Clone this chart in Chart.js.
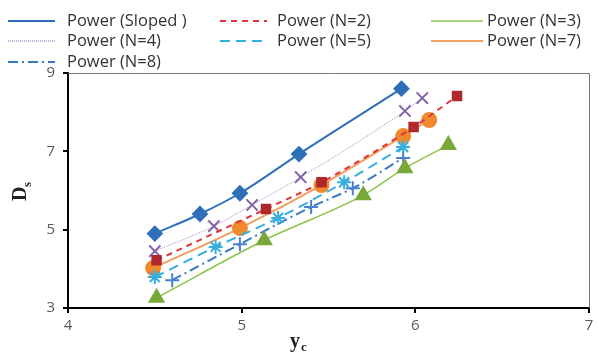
<!DOCTYPE html>
<html>
<head>
<meta charset="utf-8">
<script src="https://cdn.jsdelivr.net/npm/chart.js@4.4.0/dist/chart.umd.min.js"></script>
<style>
  body { margin:0; background:#fff; }
  #wrap { width:599px; height:354px; position:relative; }
</style>
</head>
<body>
<div id="wrap"><canvas id="grafico" width="599" height="354"></canvas></div>
<script>
// series (x = yc, y = Ds)
const xSloped = [4.50, 4.76, 4.99, 5.33, 5.92];
const ySloped = [4.90, 5.40, 5.93, 6.93, 8.60];
const xN2 = [4.51, 5.14, 5.46, 5.99, 6.24];
const yN2 = [4.22, 5.53, 6.21, 7.62, 8.41];
const xN3 = [4.51, 5.13, 5.70, 5.94, 6.19];
const yN3 = [3.26, 4.73, 5.88, 6.57, 7.16];
const xN4 = [4.50, 4.84, 5.06, 5.34, 5.94, 6.04];
const yN4 = [4.45, 5.09, 5.63, 6.34, 8.03, 8.36];
const xN5 = [4.50, 4.85, 5.21, 5.59, 5.93];
const yN5 = [3.79, 4.56, 5.30, 6.21, 7.11];
const xN7 = [4.49, 4.99, 5.46, 5.93, 6.08];
const yN7 = [4.02, 5.04, 6.14, 7.39, 7.80];
const xN8 = [4.60, 4.99, 5.40, 5.64, 5.93];
const yN8 = [3.71, 4.63, 5.58, 6.06, 6.83];
const xTicks = [4, 5, 6, 7];
const yTicks = [3, 5, 7, 9];

const pts = (xs, ys) => xs.map((x,i)=>({x:x, y:ys[i]}));

function serie(label, xs, ys, cor, corMarca, estilo, raio, dash, larg) {
    return { label, data:pts(xs,ys), borderColor:cor, backgroundColor:corMarca, pointBorderColor:corMarca,
        pointBackgroundColor:corMarca, pointStyle:estilo, pointRadius:raio, pointBorderWidth:2,
        borderDash:dash, borderWidth:larg, cubicInterpolationMode:'monotone', fill:false };
}

const datasets = [
    serie('Power (Sloped )', xSloped, ySloped, '#2f6fba', '#2f6fba', 'rectRot', 7, [], 2),
    serie('Power (N=2)', xN2, yN2, '#e0343a', '#b0282c', 'rect', 6, [6,5], 2),
    serie('Power (N=3)', xN3, yN3, '#8cc44a', '#78a83a', 'triangle', 8, [], 1.5),
    serie('Power (N=4)', xN4, yN4, '#a68fc8', '#8263a8', 'crossRot', 8, [1,1], 1),
    serie('Power (N=5)', xN5, yN5, '#35aede', '#35aede', 'star', 7, [10,6], 2),
    serie('Power (N=7)', xN7, yN7, '#f0a060', '#f08a2e', 'circle', 7, [], 2),
    serie('Power (N=8)', xN8, yN8, '#3a78c0', '#4a7fd0', 'cross', 7, [10,4,2,4], 2)
];

// legend in 3 columns + frame + axis titles with subscripts
const extras = {
    id:'extras',
    beforeDatasetsDraw(chart) {
        const {ctx, chartArea:a} = chart;
        ctx.save();
        ctx.strokeStyle = '#777'; ctx.lineWidth = 1;
        ctx.beginPath(); ctx.moveTo(a.left, a.top+0.5); ctx.lineTo(a.right+0.5, a.top+0.5); ctx.lineTo(a.right+0.5, a.bottom); ctx.stroke();
        ctx.restore();
    },
    afterDraw(chart) {
        const ctx = chart.ctx;
        const cols = [{x:8, w:47, t:67}, {x:220, w:47, t:277}, {x:431, w:52, t:487}];
        const rowY = [21, 41, 62];
        ctx.save();
        chart.data.datasets.forEach((d,i)=>{
            const c = cols[i%3], cy = rowY[Math.floor(i/3)];
            ctx.strokeStyle = d.borderColor; ctx.lineWidth = Math.max(d.borderWidth,1.5);
            ctx.setLineDash(d.borderDash);
            ctx.beginPath(); ctx.moveTo(c.x, cy); ctx.lineTo(c.x+c.w, cy); ctx.stroke();
            ctx.setLineDash([]);
            ctx.fillStyle = '#333'; ctx.font = '16.5px "Open Sans"'; ctx.textBaseline = 'middle'; ctx.textAlign = 'left';
            ctx.fillText(d.label, c.t, cy);
        });
        // x title
        ctx.fillStyle = '#222'; ctx.textBaseline = 'alphabetic';
        ctx.font = 'bold 20px "Liberation Serif"'; ctx.fillText('y', 290, 347);
        ctx.font = 'bold 13px "Liberation Serif"'; ctx.fillText('c', 301, 351);
        // y title
        ctx.translate(26, 201); ctx.rotate(-Math.PI/2);
        ctx.font = 'bold 20px "Liberation Serif"'; ctx.fillText('D', 0, 0);
        ctx.font = 'bold 13px "Liberation Serif"'; ctx.fillText('s', 14, 5);
        ctx.restore();
    }
};

new Chart(document.getElementById('grafico'), {
    type:'line',
    data:{ datasets },
    options:{
        responsive:false, animation:false,
        layout:{ padding:{ top:73, right:4, left:0, bottom:0 } },
        plugins:{ legend:{display:false}, tooltip:{enabled:false} },
        scales:{
            x:{ type:'linear', min:4, max:7,
                afterBuildTicks:(s)=>{ s.ticks = xTicks.map(v=>({value:v})); },
                afterFit:(s)=>{ s.height = 46; },
                ticks:{ color:'#595959', font:{size:15, family:'"Open Sans"'}, padding:4 },
                grid:{ drawOnChartArea:false, tickLength:5, color:'#000', lineWidth:2 },
                border:{ color:'#000', width:2 } },
            y:{ type:'linear', min:3, max:9,
                afterBuildTicks:(s)=>{ s.ticks = yTicks.map(v=>({value:v})); },
                afterFit:(s)=>{ s.width = 68; },
                ticks:{ color:'#595959', font:{size:15, family:'"Open Sans"'}, padding:8 },
                grid:{ drawOnChartArea:false, tickLength:5, color:'#000', lineWidth:2 },
                border:{ color:'#000', width:2 } }
        }
    },
    plugins:[extras]
});
</script>
</body>
</html>
